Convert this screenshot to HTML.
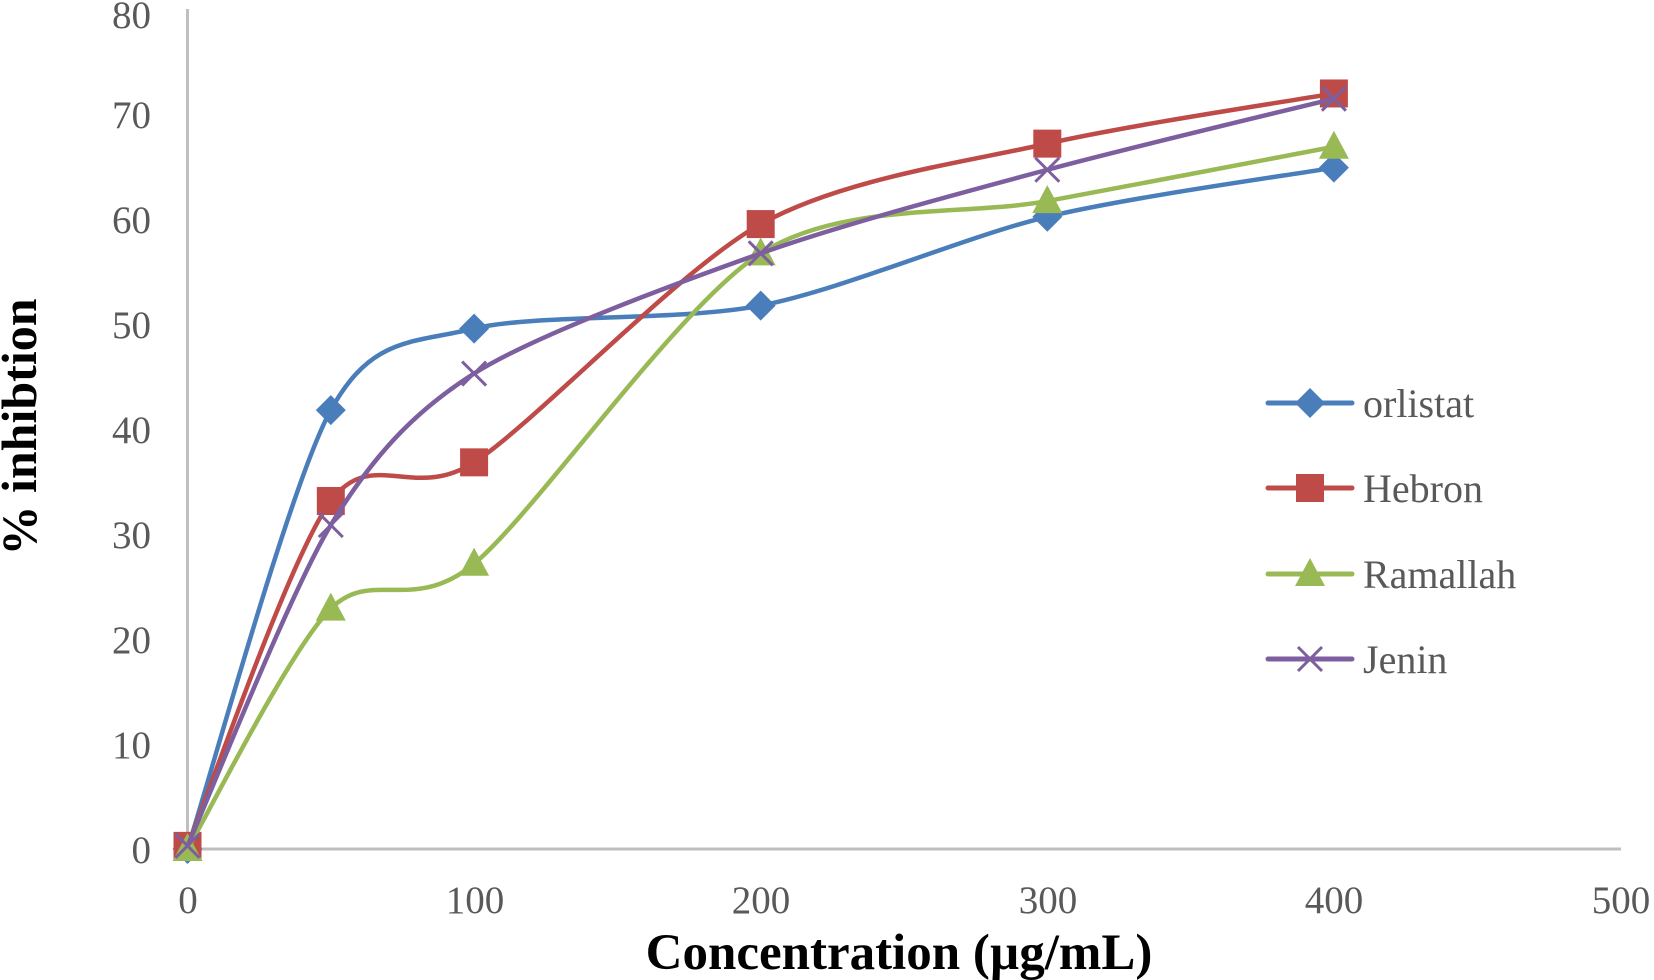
<!DOCTYPE html>
<html><head><meta charset="utf-8"><style>
html,body{margin:0;padding:0;background:#fff;}
svg{display:block;}
text{font-family:"Liberation Serif",serif;fill:#595959;}
</style></head><body>
<svg id="s" width="1654" height="980" viewBox="0 0 1654 980" xmlns="http://www.w3.org/2000/svg">
<line x1="187.5" y1="9" x2="187.5" y2="849" stroke="#bfbfbf" stroke-width="3"/>
<line x1="186" y1="849" x2="1621" y2="849" stroke="#bfbfbf" stroke-width="3"/>
<g font-size="39" text-anchor="end">
<text x="151" y="863">0</text><text x="151" y="758">10</text><text x="151" y="653">20</text><text x="151" y="548">30</text><text x="151" y="443">40</text><text x="151" y="338">50</text><text x="151" y="233">60</text><text x="151" y="128">70</text><text x="151" y="28">80</text>
</g>
<g font-size="39" text-anchor="middle">
<text x="188" y="913">0</text><text x="475" y="913">100</text><text x="761" y="913">200</text><text x="1048" y="913">300</text><text x="1334" y="913">400</text><text x="1621" y="913">500</text>
</g>
<text x="899" y="969" font-size="51" font-weight="bold" text-anchor="middle" style="fill:#000">Concentration (µg/mL)</text>
<text transform="translate(36,427) rotate(-90)" font-size="50" font-weight="bold" text-anchor="middle" style="fill:#000">% inhibtion</text>
<g id="series"></g>
<g font-size="40">
<text x="1363" y="417">orlistat</text><text x="1363" y="502">Hebron</text><text x="1363" y="588">Ramallah</text><text x="1363" y="673">Jenin</text>
</g>
<g id="leg"></g>
</svg>
<script>
var NS="http://www.w3.org/2000/svg";
function X(v){return 187.5+v*2.866;}
function Y(v){return 849-v*10.45;}
var S=[
["#4a7ebb","d",[[0,0],[50,42],[100,49.8],[200,52],[300,60.5],[400,65.2]]],
["#be4b48","s",[[0,0.3],[50,33.3],[100,37],[200,59.8],[300,67.5],[400,72.3]]],
["#98b954","t",[[0,0],[50,23],[100,27.3],[200,57],[300,62],[400,67.2]]],
["#7d5fa0","x",[[0,0.3],[50,31],[100,45.5],[200,57],[300,65],[400,71.8]]]
];
var g=document.getElementById("series"),lg=document.getElementById("leg");
function el(n,a,p){var e=document.createElementNS(NS,n);for(var k in a)e.setAttribute(k,a[k]);p.appendChild(e);return e;}
function marker(t,c,x,y,p){
 if(t=="d")el("polygon",{points:(x)+","+(y-15)+" "+(x+15)+","+y+" "+x+","+(y+15)+" "+(x-15)+","+y,fill:c},p);
 if(t=="s")el("rect",{x:x-14,y:y-14,width:28,height:28,fill:c},p);
 if(t=="t")el("polygon",{points:x+","+(y-16)+" "+(x+15)+","+(y+12)+" "+(x-15)+","+(y+12),fill:c},p);
 if(t=="x"){el("path",{d:"M"+(x-12)+","+(y-12)+"L"+(x+12)+","+(y+12)+"M"+(x+12)+","+(y-12)+"L"+(x-12)+","+(y+12),stroke:c,"stroke-width":3},p);}
}
S.forEach(function(s,i){
 var P=s[2].map(function(d){return [X(d[0]),Y(d[1])];});
 var d="M"+P[0][0]+","+P[0][1];
 for(var k=0;k<P.length-1;k++){
  var p0=P[Math.max(k-1,0)],p1=P[k],p2=P[k+1],p3=P[Math.min(k+2,P.length-1)];
  var c1=[p1[0]+(p2[0]-p0[0])/7,p1[1]+(p2[1]-p0[1])/7],c2=[p2[0]-(p3[0]-p1[0])/7,p2[1]-(p3[1]-p1[1])/7];
  d+=" C"+c1+" "+c2+" "+p2;
 }
 el("path",{d:d,fill:"none",stroke:s[0],"stroke-width":4.5,"stroke-linecap":"round"},g);
 P.forEach(function(p){marker(s[1],s[0],p[0],p[1],g);});
 var ly=[403,488,574,659][i];
 el("line",{x1:1268,y1:ly,x2:1352,y2:ly,stroke:s[0],"stroke-width":5,"stroke-linecap":"round"},lg);
 marker(s[1],s[0],1310,ly,lg);
});
</script>
</body></html>
